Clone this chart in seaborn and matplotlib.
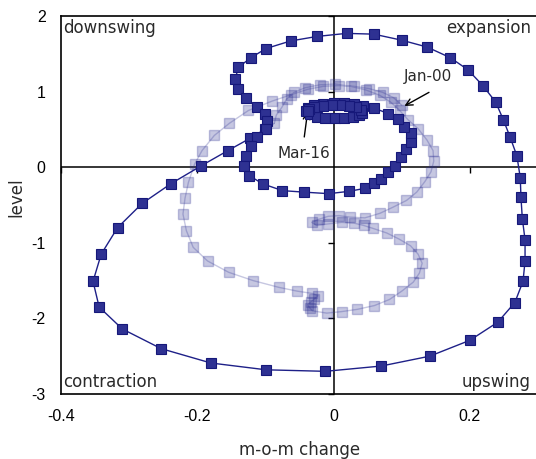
import matplotlib
matplotlib.use("Agg")
import matplotlib.pyplot as plt
import seaborn as sns
import pandas as pd

# ---------------- data ----------------
# earlier part of the path (faded), starting Jan-00
light_x = [0.100, 0.088, 0.072, 0.052, 0.030, 0.008, -0.015, -0.038, -0.062, -0.090,
           -0.125, -0.153, -0.175, -0.193, -0.204, -0.213, -0.218, -0.221, -0.216, -0.206,
           -0.185, -0.154, -0.118, -0.080, -0.053, -0.031, -0.023, -0.028, -0.033, -0.038,
           -0.035, -0.031, -0.010, 0.012, 0.035, 0.060, 0.082, 0.100, 0.117, 0.126,
           0.130, 0.124, 0.113, 0.096, 0.078, 0.058, 0.044, 0.030, 0.012, -0.008,
           -0.025, -0.032, -0.022, -0.008, 0.008, 0.024, 0.046, 0.068, 0.087, 0.107,
           0.122, 0.134, 0.143, 0.147, 0.146, 0.137, 0.124, 0.109, 0.097, 0.084,
           0.068, 0.048, 0.025, 0.002, -0.020, -0.042, -0.058, -0.069, -0.076, -0.084,
           -0.087]
light_y = [0.82, 0.92, 0.99, 1.04, 1.07, 1.08, 1.07, 1.03, 0.96, 0.875,
           0.75, 0.58, 0.42, 0.22, 0.04, -0.20, -0.41, -0.62, -0.84, -1.06,
           -1.24, -1.39, -1.50, -1.59, -1.64, -1.67, -1.70, -1.74, -1.78, -1.82,
           -1.86, -1.90, -1.93, -1.91, -1.88, -1.83, -1.75, -1.64, -1.52, -1.40,
           -1.27, -1.15, -1.04, -0.95, -0.87, -0.81, -0.77, -0.74, -0.73, -0.75,
           -0.77, -0.73, -0.69, -0.65, -0.64, -0.66, -0.67, -0.61, -0.53, -0.44,
           -0.33, -0.19, -0.06, 0.08, 0.22, 0.36, 0.51, 0.63, 0.75, 0.86,
           0.95, 1.02, 1.07, 1.10, 1.09, 1.05, 0.99, 0.90, 0.79, 0.69,
           0.58]

# later part of the path (dark), ending Mar-16
dark_x = [-0.101, -0.123, -0.155, -0.194, -0.239, -0.281, -0.317, -0.341, -0.353, -0.344,
          -0.310, -0.253, -0.180, -0.099, -0.012, 0.070, 0.141, 0.200, 0.241, 0.266,
          0.278, 0.281, 0.281, 0.277, 0.275, 0.274, 0.269, 0.259, 0.249, 0.238,
          0.219, 0.197, 0.171, 0.137, 0.100, 0.059, 0.019, -0.024, -0.063, -0.099,
          -0.121, -0.140, -0.144, -0.140, -0.128, -0.113, -0.100, -0.097, -0.099, -0.112,
          -0.121, -0.128, -0.131, -0.124, -0.104, -0.075, -0.043, -0.007, 0.022, 0.046,
          0.059, 0.070, 0.080, 0.090, 0.099, 0.107, 0.113, 0.113, 0.104, 0.094,
          0.080, 0.060, 0.043, 0.030, 0.015, 0.000, -0.015, -0.028, -0.038, -0.040,
          -0.035, -0.025, -0.012, 0.002, 0.016, 0.028, 0.038, 0.042, 0.040, 0.033,
          0.022, 0.010, -0.003, -0.016, -0.028, -0.036, -0.038]
dark_y = [0.50, 0.38, 0.22, 0.02, -0.22, -0.48, -0.80, -1.15, -1.51, -1.85,
          -2.14, -2.40, -2.59, -2.68, -2.70, -2.63, -2.50, -2.29, -2.05, -1.79,
          -1.51, -1.24, -0.96, -0.68, -0.40, -0.14, 0.15, 0.40, 0.63, 0.86,
          1.08, 1.29, 1.45, 1.59, 1.68, 1.76, 1.77, 1.73, 1.67, 1.57,
          1.45, 1.32, 1.17, 1.03, 0.91, 0.79, 0.70, 0.61, 0.51, 0.40,
          0.28, 0.15, 0.02, -0.11, -0.22, -0.31, -0.33, -0.35, -0.32, -0.28,
          -0.21, -0.15, -0.07, 0.02, 0.13, 0.24, 0.33, 0.45, 0.53, 0.64,
          0.71, 0.78, 0.81, 0.84, 0.85, 0.85, 0.84, 0.82, 0.78, 0.74,
          0.70, 0.67, 0.65, 0.645, 0.65, 0.665, 0.69, 0.72, 0.76, 0.79,
          0.81, 0.82, 0.82, 0.81, 0.79, 0.765, 0.74]

x_ticks = [-0.4, -0.2, 0, 0.2]
x_tick_labels = ["-0.4", "-0.2", "0", "0.2"]
y_ticks = [-3, -2, -1, 0, 1, 2]
y_tick_labels = ["-3", "-2", "-1", "0", "1", "2"]
quadrants = ["downswing", "expansion", "contraction", "upswing"]

# ---------------- figure ----------------
sns.set_theme(style="white")
plt.rcParams['font.family'] = ['DejaVu Sans']

fig = plt.figure(figsize=(5.36, 4.59), dpi=100)
ax = fig.add_axes([61 / 536, 65 / 459, 477 / 536, 378 / 459])

navy = "#2E3192"
txt = "#2a2a2a"
light_df = pd.DataFrame({"x": light_x + dark_x[:1], "y": light_y + dark_y[:1]})
dark_df = pd.DataFrame({"x": dark_x, "y": dark_y})

ax.axhline(0, color="black", lw=1.1, zorder=1.5)
ax.axvline(0, color="black", lw=1.1, zorder=1.5)

sns.lineplot(data=light_df.iloc[:-1], x="x", y="y", sort=False, estimator=None, ax=ax,
             color=navy, alpha=0.27, lw=1.0, marker="s", markersize=7.5,
             markerfacecolor=navy, markeredgecolor=navy, markeredgewidth=1.0, zorder=3)
sns.lineplot(data=light_df.iloc[-2:], x="x", y="y", sort=False, estimator=None, ax=ax,
             color=navy, alpha=0.27, lw=1.0, zorder=3)
sns.lineplot(data=dark_df, x="x", y="y", sort=False, estimator=None, ax=ax,
             color="#1E2088", lw=1.0, marker="s", markersize=7,
             markerfacecolor=navy, markeredgecolor="#16187A", markeredgewidth=0.8, zorder=4)

ax.set_xlim(-0.4, 0.3)
ax.set_ylim(-3, 2)
ax.set_xticks(x_ticks)
ax.set_xticklabels(x_tick_labels, family=["Liberation Sans", "DejaVu Sans"], fontsize=11.5)
ax.set_yticks(y_ticks)
ax.set_yticklabels(y_tick_labels, family=["Liberation Sans", "DejaVu Sans"], fontsize=11.5)
ax.tick_params(axis="both", length=0, pad=11, colors="black")

# small tick marks on the zero axes
ax.plot([t for t in x_ticks if t != 0], [0] * 3, ls="none", marker=3, markersize=4,
        color="black", mew=1.0, zorder=1.6, clip_on=False)
ax.plot([0] * 5, [t for t in y_ticks if t != 0], ls="none", marker=0, markersize=4,
        color="black", mew=1.0, zorder=1.6, clip_on=False)

for side in ["left", "bottom", "top"]:
    ax.spines[side].set_visible(True)
    ax.spines[side].set_color("black")
    ax.spines[side].set_linewidth(1.2)
ax.spines["right"].set_visible(False)

ax.set_xlabel("m-o-m change", fontsize=12, color=txt)
ax.set_ylabel("level", fontsize=12, color=txt)
ax.xaxis.set_label_coords(0.5, -0.125)
ax.yaxis.set_label_coords(-0.075, 0.52)

qkw = dict(transform=ax.transAxes, fontsize=12, color=txt)
ax.text(0.004, 0.992, quadrants[0], ha="left", va="top", **qkw)
ax.text(0.985, 0.992, quadrants[1], ha="right", va="top", **qkw)
ax.text(0.004, 0.0185, quadrants[2], ha="left", va="baseline", **qkw)
ax.text(0.985, 0.0185, quadrants[3], ha="right", va="baseline", **qkw)

# date annotations
ax.text(0.138, 1.20, "Jan-00", ha="center", va="center", fontsize=11, color=txt)
ax.annotate("", xy=(0.104, 0.81), xytext=(0.140, 0.99),
            arrowprops=dict(arrowstyle="->", color="black", lw=1.0,
                            shrinkA=0, shrinkB=0, mutation_scale=12))
ax.text(-0.044, 0.185, "Mar-16", ha="center", va="center", fontsize=11, color=txt)
ax.annotate("", xy=(-0.038, 0.74), xytext=(-0.043, 0.40),
            arrowprops=dict(arrowstyle="->", color="black", lw=1.0,
                            shrinkA=0, shrinkB=0, mutation_scale=12))

fig.savefig("out.png", dpi=100)
